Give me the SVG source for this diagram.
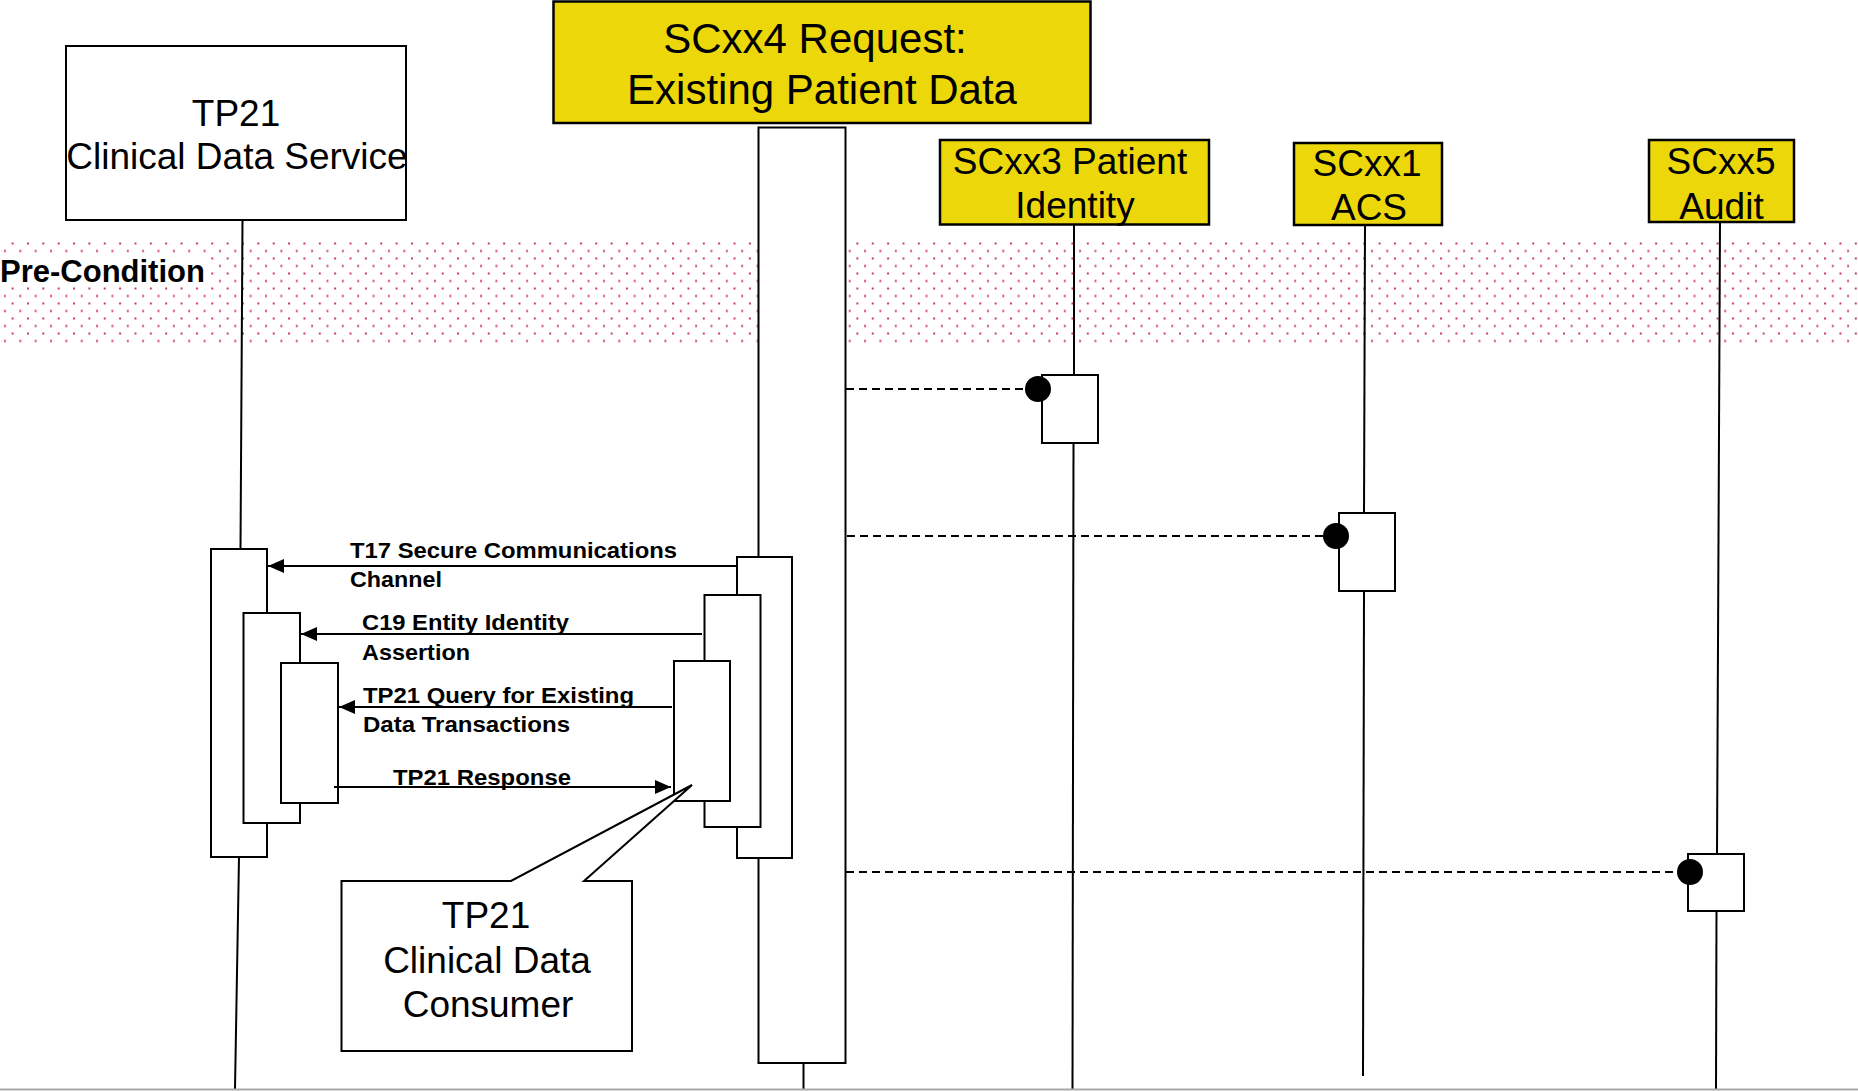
<svg xmlns="http://www.w3.org/2000/svg" width="1858" height="1091" viewBox="0 0 1858 1091">
  <style>
    .box { fill: #ffffff; stroke: #000000; stroke-width: 2; }
    .hdr { fill: #ECD80A; stroke: #000000; stroke-width: 2.5; }
    .life { stroke: #000000; stroke-width: 2; fill: none; }
    .msg { stroke: #000000; stroke-width: 2; fill: none; }
    .dash { stroke: #000000; stroke-width: 2; stroke-dasharray: 8 5; fill: none; }
    .title { font-family: "Liberation Sans", Arial, sans-serif; font-size: 37px; fill: #000; text-anchor: middle; }
    .big { font-family: "Liberation Sans", Arial, sans-serif; font-size: 42px; fill: #000; text-anchor: middle; }
    .lbl { font-family: "Liberation Sans", Arial, sans-serif; font-size: 22px; font-weight: bold; fill: #000; }
    .pre { font-family: "Liberation Sans", Arial, sans-serif; font-size: 31px; font-weight: bold; fill: #000; }
  </style>
  <defs>
    <pattern id="dots" patternUnits="userSpaceOnUse" x="11.6" y="242.5" width="15.36" height="15">
      <rect x="0" y="0" width="2" height="2" fill="#C8183C" opacity="0.85"/>
      <rect x="7.68" y="7.5" width="2" height="2" fill="#C8183C" opacity="0.85"/>
    </pattern>
    <marker id="arrow" markerUnits="userSpaceOnUse" markerWidth="16" markerHeight="14" refX="16" refY="7" orient="auto">
      <path d="M0,0 L16,7 L0,14 z" fill="#000"/>
    </marker>
  </defs>

  <rect width="1858" height="1091" fill="#ffffff"/>

  <!-- pre-condition band -->
  <g id="precondition">
    <rect x="0" y="241" width="1858" height="104" fill="url(#dots)"/>
    <rect x="0" y="254" width="211" height="31" fill="#ffffff"/>
    <text class="pre" x="0" y="282">Pre-Condition</text>
  </g>

  <!-- lifelines -->
  <g id="lifelines">
    <line class="life" x1="242.5" y1="220" x2="240.5" y2="549"/>
    <line class="life" x1="239" y1="857" x2="235" y2="1089"/>
    <line class="life" x1="803.5" y1="1063" x2="803.5" y2="1089"/>
    <line class="life" x1="1074" y1="225" x2="1074" y2="375"/>
    <line class="life" x1="1073.5" y1="443" x2="1072.5" y2="1089"/>
    <line class="life" x1="1365" y1="225" x2="1364" y2="513"/>
    <line class="life" x1="1364" y1="591" x2="1363" y2="1076"/>
    <line class="life" x1="1720" y1="222" x2="1717" y2="854"/>
    <line class="life" x1="1716.5" y1="911" x2="1716" y2="1089"/>
  </g>

  <!-- participants -->
  <g id="tp21-service">
    <rect class="box" x="66" y="46" width="340" height="174"/>
    <text class="title" x="236" y="126">TP21</text>
    <text class="title" x="237" y="169">Clinical Data Service</text>
  </g>

  <g id="scxx4-request">
    <rect class="hdr" x="553.5" y="1.5" width="537" height="121.5"/>
    <text class="big" x="815" y="53">SCxx4 Request:</text>
    <text class="big" x="822" y="104">Existing Patient Data</text>
  </g>

  <g id="scxx3-identity">
    <rect class="hdr" x="940" y="140" width="269" height="84.5"/>
    <text class="title" x="1070" y="174">SCxx3 Patient</text>
    <text class="title" x="1075" y="218">Identity</text>
  </g>

  <g id="scxx1-acs">
    <rect class="hdr" x="1294" y="143" width="148" height="82"/>
    <text class="title" x="1367" y="176">SCxx1</text>
    <text class="title" x="1369" y="220">ACS</text>
  </g>

  <g id="scxx5-audit">
    <rect class="hdr" x="1649" y="140" width="145" height="82"/>
    <text class="title" x="1721" y="174">SCxx5</text>
    <text class="title" x="1721.5" y="219">Audit</text>
  </g>

  <!-- activation bars -->
  <g id="service-activations">
    <rect class="box" x="211" y="549" width="56" height="308"/>
    <rect class="box" x="243.5" y="613" width="56.5" height="210"/>
    <rect class="box" x="281" y="663" width="57" height="140"/>
  </g>

  <g id="request-activations">
    <rect class="box" x="758.5" y="127.5" width="87" height="935.5"/>
    <rect class="box" x="737" y="557" width="55" height="301"/>
    <rect class="box" x="704.5" y="595" width="56" height="232"/>
    <rect class="box" x="674" y="661" width="56" height="140"/>
  </g>

  <g id="scxx-activations">
    <rect class="box" x="1042" y="375" width="56" height="68"/>
    <rect class="box" x="1339" y="513" width="56" height="78"/>
    <rect class="box" x="1688" y="854" width="56" height="57"/>
  </g>

  <!-- messages -->
  <g id="connectors">
    <line class="msg" x1="737" y1="566" x2="268" y2="566" marker-end="url(#arrow)"/>
    <line class="msg" x1="702" y1="634" x2="301" y2="634" marker-end="url(#arrow)"/>
    <line class="msg" x1="672" y1="707" x2="339" y2="707" marker-end="url(#arrow)"/>
    <line class="msg" x1="334" y1="787" x2="671" y2="787" marker-end="url(#arrow)"/>

    <line class="dash" x1="846" y1="389" x2="1030" y2="389"/>
    <circle cx="1038" cy="389" r="13" fill="#000"/>
    <line class="dash" x1="847" y1="536" x2="1328" y2="536"/>
    <circle cx="1336" cy="536" r="13" fill="#000"/>
    <line class="dash" x1="846" y1="872" x2="1682" y2="872"/>
    <circle cx="1690" cy="872" r="13" fill="#000"/>
  </g>

  <!-- message labels -->
  <g id="message-labels">
    <text class="lbl" x="350" y="558" textLength="327" lengthAdjust="spacingAndGlyphs">T17 Secure Communications</text>
    <text class="lbl" x="350" y="587" textLength="92" lengthAdjust="spacingAndGlyphs">Channel</text>
    <text class="lbl" x="362" y="630" textLength="207" lengthAdjust="spacingAndGlyphs">C19 Entity Identity</text>
    <text class="lbl" x="362" y="660" textLength="108" lengthAdjust="spacingAndGlyphs">Assertion</text>
    <text class="lbl" x="363" y="703" textLength="271" lengthAdjust="spacingAndGlyphs">TP21 Query for Existing</text>
    <text class="lbl" x="363" y="732" textLength="207" lengthAdjust="spacingAndGlyphs">Data Transactions</text>
    <text class="lbl" x="393" y="785" textLength="178" lengthAdjust="spacingAndGlyphs">TP21 Response</text>
  </g>

  <!-- consumer callout -->
  <g id="tp21-consumer">
    <polygon class="box" points="341.5,881 511,881 692,785 584,881 632,881 632,1051 341.5,1051"/>
    <text class="title" x="486" y="928">TP21</text>
    <text class="title" x="487" y="973">Clinical Data</text>
    <text class="title" x="488" y="1017">Consumer</text>
  </g>

  <!-- frame bottom edge -->
  <line x1="0" y1="1089.5" x2="1858" y2="1089.5" stroke="#A8A8A8" stroke-width="2"/>
</svg>
